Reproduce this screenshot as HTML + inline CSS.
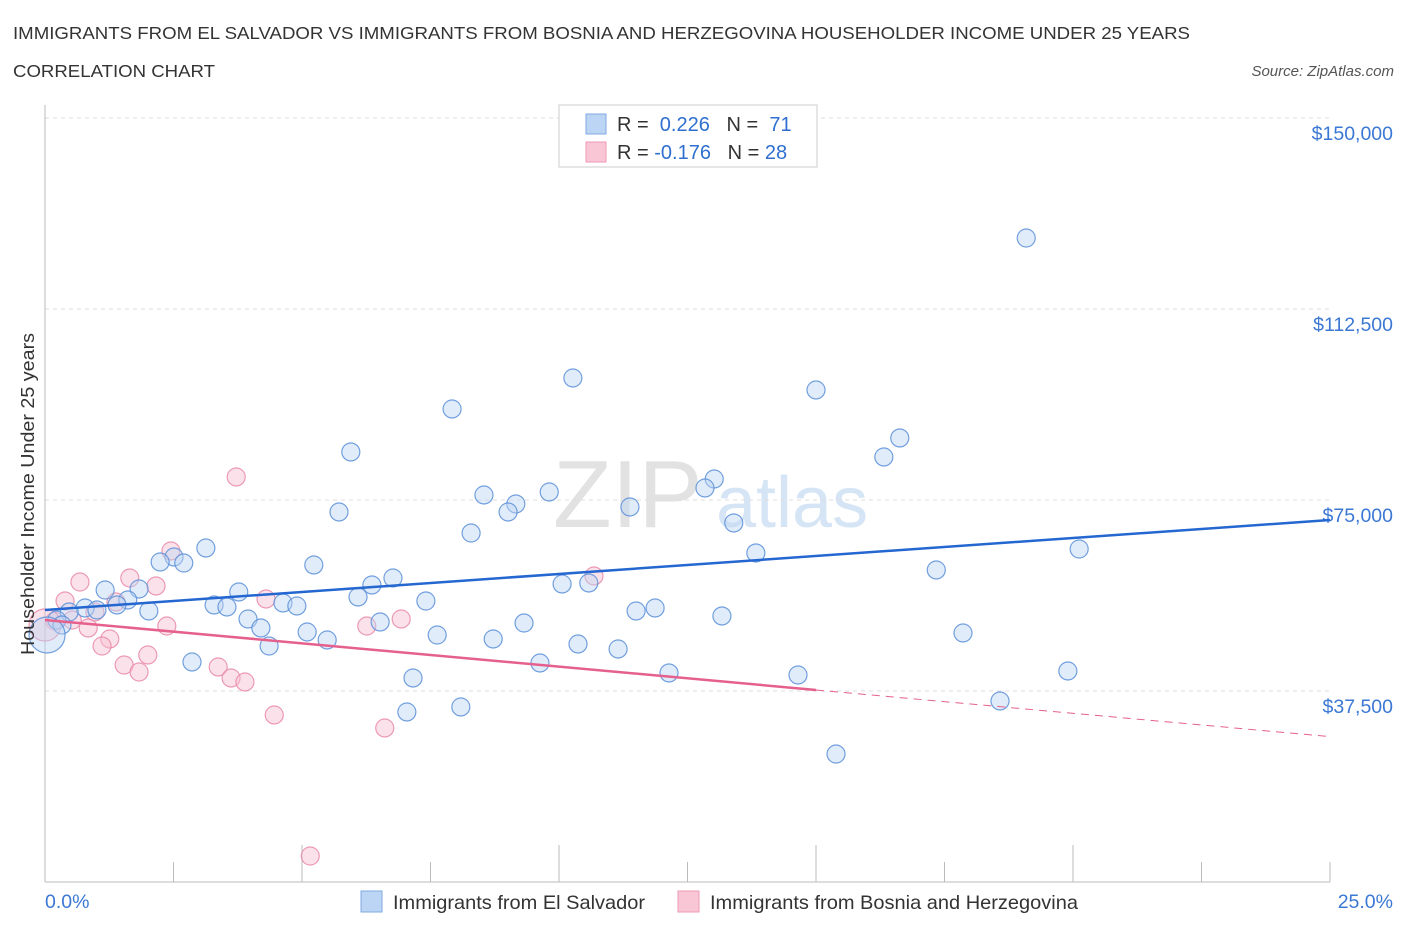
<!DOCTYPE html>
<html><head><meta charset="utf-8"><style>
body{margin:0;background:#fff;font-family:"Liberation Sans",sans-serif;}
svg text{font-family:"Liberation Sans",sans-serif;}
</style></head><body>
<svg id="chart" width="1406" height="930" xmlns="http://www.w3.org/2000/svg">
<text x="13" y="39" font-size="17.5" fill="#333" textLength="1177" lengthAdjust="spacingAndGlyphs">IMMIGRANTS FROM EL SALVADOR VS IMMIGRANTS FROM BOSNIA AND HERZEGOVINA HOUSEHOLDER INCOME UNDER 25 YEARS</text>
<text x="13" y="77" font-size="17.5" fill="#333" textLength="202" lengthAdjust="spacingAndGlyphs">CORRELATION CHART</text>
<text x="1394" y="76" font-size="15" font-style="italic" fill="#555" text-anchor="end">Source: ZipAtlas.com</text>
<text x="553" y="527" font-size="96" fill="#e2e2e2" font-family="Liberation Serif">ZIP</text>
<text x="716" y="527" font-size="72" fill="#d6e5f5">atlas</text>
<g id="grid"></g>
<g id="axes"></g>
<g id="marks"></g>
<g>
<rect x="559" y="105" width="258" height="62" fill="#fff" stroke="#ccc"/>
<rect x="586" y="114" width="20" height="20" fill="#bcd5f5" stroke="#7fa9e0"/>
<rect x="586" y="142" width="20" height="20" fill="#f9c6d6" stroke="#ee9ab4"/>
<text x="617" y="131" font-size="20" fill="#333">R = <tspan fill="#2f6fd0">&#160;0.226</tspan>&#160;&#160;&#160;N = <tspan fill="#2f6fd0">&#160;71</tspan></text>
<text x="617" y="159" font-size="20" fill="#333">R = <tspan fill="#2f6fd0">-0.176</tspan>&#160;&#160;&#160;N = <tspan fill="#2f6fd0">28</tspan></text>
</g>
<g>
<rect x="361" y="891" width="21" height="21" fill="#bcd5f5" stroke="#7fa9e0"/>
<text x="393" y="909" font-size="19.5" fill="#333" textLength="252" lengthAdjust="spacingAndGlyphs">Immigrants from El Salvador</text>
<rect x="678" y="891" width="21" height="21" fill="#f9c6d6" stroke="#ee9ab4"/>
<text x="710" y="909" font-size="19.5" fill="#333" textLength="368" lengthAdjust="spacingAndGlyphs">Immigrants from Bosnia and Herzegovina</text>
</g>
<text transform="translate(34,494) rotate(-90)" font-size="18" fill="#333" text-anchor="middle" textLength="322" lengthAdjust="spacingAndGlyphs">Householder Income Under 25 years</text>
</svg>
<script>
const blueX=[19.09,10.27,15.0,7.92,16.63,16.32,5.95,13.02,12.84,9.81,8.54,9.16,11.38,9.01,5.72,13.40,8.29,3.13,20.12,13.83,2.51,2.24,2.70,5.23,17.34,6.77,10.06,10.58,6.36,1.83,1.17,3.77,6.09,1.61,7.41,1.40,3.29,3.54,4.63,4.90,11.87,11.50,0.78,1.01,2.02,0.47,13.17,3.95,6.52,9.32,0.23,0.33,4.20,5.10,17.86,7.63,5.49,8.72,4.36,10.37,11.15,2.86,9.63,19.90,12.14,14.65,7.16,18.58,8.09,7.04,15.39];
const blueY=[126440,98955,96600,92870,87180,83445,84430,79125,77360,76575,75985,74220,73630,72645,72645,70490,68520,65580,65380,64600,63810,62830,62630,62240,61260,59690,58510,58705,58315,57530,57330,56940,55960,55370,55170,54390,54390,53995,54780,54190,53800,53210,53800,53405,53210,53010,52230,51640,51050,50850,51440,50460,49870,49085,48890,48495,47515,47710,46335,46730,45750,43195,43000,41430,41040,40645,40055,35540,34360,33380,25130];
const pinkX=[3.72,2.45,1.65,0.68,2.16,10.68,0.39,4.30,1.38,0.97,6.93,0.53,6.26,2.37,0.84,1.26,1.11,2.00,1.54,3.37,1.83,3.62,3.89,4.46,6.61,5.16,0.19];
const pinkY=[79520,64990,59690,58900,58120,60080,55170,55565,54975,53010,51640,51440,50260,50260,49870,47710,46335,44570,42605,42215,41230,40055,39270,32790,30240,5105,51245];
const bigBlue=[0.04,48495], bigPink=[0.0,50460];
const blueLine=[[0,53405],[25,71075]];
const pinkSolid=[[0,51440],[15,37700]];
const pinkDash=[[15,37700],[25,28540]];
const yTicks=[37500,75000,112500,150000];
const yTickLabels=["$37,500","$75,000","$112,500","$150,000"];
const xTicks=[0,2.5,5,7.5,10,12.5,15,17.5,20,22.5,25];
const xs=v=>45+v/25*1285, ys=v=>882-v/37500*191;
const NS="http://www.w3.org/2000/svg";
function mk(p,t,a){const e=document.createElementNS(NS,t);for(const k in a)e.setAttribute(k,a[k]);document.getElementById(p).appendChild(e);return e;}
yTicks.forEach((t,i)=>{
 const l=mk('grid','line',{x1:45,x2:1330,y1:ys(t),y2:ys(t),stroke:'#ddd','stroke-dasharray':'4,4'});
 
 
 const tx=mk('axes','text',{x:1393,y:ys(t)+22,'font-size':19.5,fill:'#3b78d4','text-anchor':'end'});
 tx.textContent=yTickLabels[i];
 
 
});
const ax=mk('axes','line',{x1:45,x2:45,y1:105,y2:882,stroke:'#bbb'});


const bx=mk('axes','line',{x1:45,x2:1330,y1:882,y2:882,stroke:'#bbb'});


xTicks.forEach(t=>{
 const l=mk('axes','line',{x1:xs(t),x2:xs(t),y1:882,y2:(t%5===0&&t>0&&t<25)?845:862,stroke:'#bbb'});
 
 
});
[[0,'0.0%','start',45],[25,'25.0%','end',1393]].forEach(d=>{
 const tx=mk('axes','text',{x:d[3],y:908,'font-size':19.5,fill:'#3b78d4','text-anchor':d[2]});
 tx.textContent=d[1];
 
 
});
function dot(x,y,r,c,s,n){const e=mk('marks','circle',{cx:xs(x),cy:ys(y),r:r,fill:c,'fill-opacity':0.45,stroke:s,'stroke-width':1.2,'stroke-opacity':0.85});
 
 }
pinkX.forEach((x,i)=>dot(x,pinkY[i],9,'#f7bfd1','#e98aa8','bosnia-point'));
dot(bigPink[0],bigPink[1],16,'#f7bfd1','#e98aa8','bosnia-point');
blueX.forEach((x,i)=>dot(x,blueY[i],9,'#bcd5f5','#5b8fd8','el-salvador-point'));
dot(bigBlue[0],bigBlue[1],18,'#bcd5f5','#5b8fd8','el-salvador-point');
function ln(p,c,w,d,n){const e=mk('marks','line',{x1:xs(p[0][0]),y1:ys(p[0][1]),x2:xs(p[1][0]),y2:ys(p[1][1]),stroke:c,'stroke-width':w});
 if(d)e.setAttribute('stroke-dasharray',d);
 
 }
ln(blueLine,'#2467d0',2.5,null,'el-salvador-trendline');
ln(pinkSolid,'#e5608c',2.5,null,'bosnia-trendline');
ln(pinkDash,'#e5608c',1,'8,6','bosnia-trendline-extension');
</script>
</body></html>
